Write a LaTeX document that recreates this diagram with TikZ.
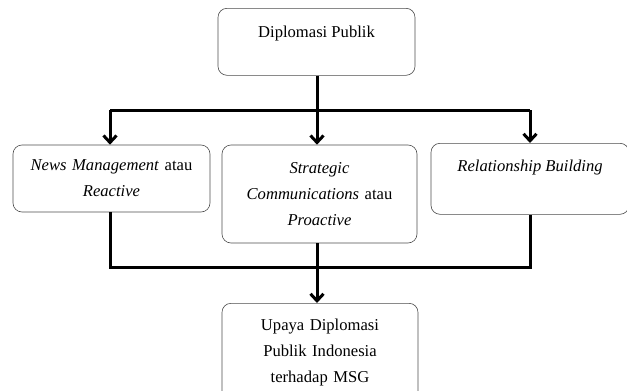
\documentclass[tikz,border=0pt]{standalone}
\usepackage{fontspec}
\setmainfont{Liberation Serif}
\usetikzlibrary{arrows.meta}
\begin{document}
\begin{tikzpicture}[x=1pt,y=-1pt,
  box/.style={draw=black!70, line width=0.6pt, rounded corners=9pt, inner sep=0pt,
    font=\fontsize{16.6}{26}\selectfont, align=center},
  conn/.style={line width=3pt, line cap=butt},
  arr/.style={conn, -{Straight Barb[length=7pt,width=13pt]}}]
\useasboundingbox (0,0) rectangle (627,391);
\clip (0,0) rectangle (627,391);
% top box
\node[box, minimum width=197pt, text height=29pt, text depth=38pt, anchor=north] (dp) at (316.5,8) {Diplomasi Publik};
% second row
\node[box, minimum width=197pt, minimum height=67pt, text width=190pt] (nm) at (111.5,178.5) {\textit{News Management} atau\\\textit{Reactive}};
\node[box, minimum width=195pt, minimum height=98pt, text width=185pt] (sc) at (319.5,194) {\textit{Strategic}\\\textit{Communications} atau\\\textit{Proactive}};
\node[box, minimum width=198pt, text height=28pt, text depth=43pt, anchor=north] (rb) at (530,143) {\textit{Relationship Building}};
% bottom box
\node[box, minimum width=196pt, minimum height=98pt, text width=185pt, anchor=north] (up) at (320,303) {Upaya Diplomasi\\Publik Indonesia\\terhadap MSG};
% top connectors
\coordinate (j1) at (317,110);
\coordinate (bl) at (110,110);
\coordinate (br) at (530,110);
\draw[conn] (dp.south -| j1) -- (j1);
\draw[conn] (bl) -- (br);
\draw[arr] (bl) -- (bl |- nm.north);
\draw[arr] (j1) -- (j1 |- sc.north);
\draw[arr] (br) -- (br |- rb.north);
% bottom connectors
\coordinate (k1) at (110,267);
\coordinate (k2) at (530,267);
\draw[conn] (nm.south -| k1) -- (k1) -- (k2) -- (rb.south -| k2);
\draw[arr] (sc.south -| j1) -- (j1 |- up.north);
\end{tikzpicture}
\end{document}
